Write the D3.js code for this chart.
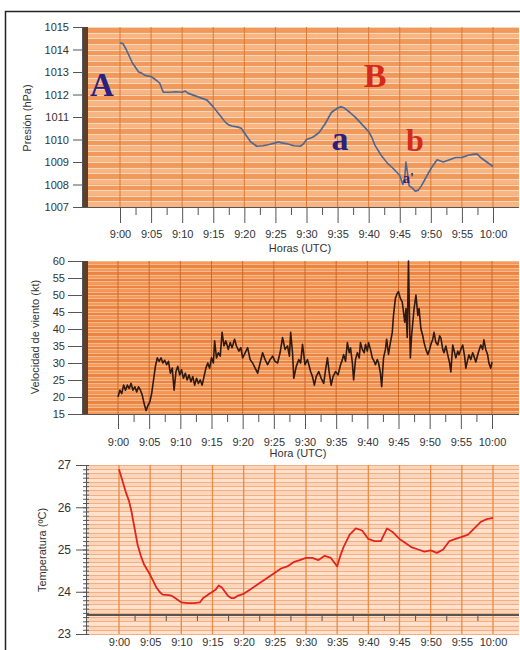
<!DOCTYPE html>
<html>
<head>
<meta charset="utf-8">
<script src="https://cdnjs.cloudflare.com/ajax/libs/d3/7.8.5/d3.min.js"></script>
<style>
	body { margin: 0; background: #fff; }
	svg text { font-family: "Liberation Sans", Arial, sans-serif; fill: #333; }
	.axis path, .axis line { stroke: #555; }
	.axis text { font-size: 11px; fill: #333; }
	.mark { font-family: "Liberation Serif", "Times New Roman", serif !important; font-weight: bold; }
</style>
</head>
<body>
<svg id="chart"></svg>
<script>
// minutes after 9:00 UTC
var timeTicks = ["9:00","9:05","9:10","9:15","9:20","9:25","9:30","9:35","9:40","9:45","9:50","9:55","10:00"];

// pressure (hPa)
var pressure = [
	[0,1014.3],[0.5,1014.25],[1,1014.0],[1.5,1013.7],[2,1013.4],[2.5,1013.2],[3,1013.0],[3.5,1012.95],
	[4,1012.85],[5,1012.8],[5.5,1012.7],[6,1012.6],[6.4,1012.5],[6.8,1012.2],[7,1012.1],[8,1012.1],
	[9,1012.12],[10,1012.1],[10.5,1012.15],[11,1012.05],[12,1011.95],[13,1011.85],[14,1011.75],
	[15,1011.45],[16,1011.1],[17,1010.75],[17.5,1010.65],[18,1010.6],[19,1010.55],[19.5,1010.5],
	[20,1010.3],[20.5,1010.1],[21,1009.9],[21.5,1009.8],[22,1009.7],[23,1009.72],[24,1009.78],
	[25,1009.85],[25.5,1009.9],[26,1009.85],[27,1009.8],[28,1009.72],[29,1009.7],[29.5,1009.8],
	[30,1010.0],[31,1010.1],[32,1010.3],[33,1010.7],[34,1011.2],[35,1011.4],[35.5,1011.45],
	[36,1011.42],[37,1011.2],[38,1010.95],[39,1010.65],[40,1010.35],[40.5,1010.1],[41,1009.75],
	[42,1009.3],[43,1008.95],[44,1008.7],[45,1008.4],[45.5,1008.0],[45.8,1008.3],[46,1009.0],
	[46.2,1008.6],[46.5,1007.95],[47,1007.85],[47.5,1007.7],[48,1007.75],[48.5,1007.95],[49,1008.2],
	[50,1008.7],[51,1009.1],[52,1009.0],[53,1009.1],[54,1009.2],[55,1009.2],[56,1009.3],
	[57,1009.35],[57.5,1009.35],[58,1009.2],[59,1009.0],[60,1008.8]
];

// wind speed (kt)
var wind = [
	[0,20],[0.3,22],[0.6,21],[0.9,23.5],[1.2,22],[1.5,23.5],[1.8,22.5],[2.1,24],[2.4,22],[2.7,23],
	[3,21.5],[3.3,23],[3.6,22],[3.9,20.5],[4.2,18],[4.5,16],[4.8,17.5],[5.1,18.5],[5.4,21],[5.7,25],
	[6,29],[6.3,31.5],[6.6,30.5],[6.9,31.5],[7.2,30],[7.5,30.8],[7.8,29.5],[8.1,30.5],[8.4,27],[8.7,28.5],
	[9,22],[9.3,27.5],[9.6,29],[9.9,26.5],[10.2,28],[10.5,25.5],[10.8,27],[11.1,25],[11.4,26.5],[11.7,24.5],
	[12,26],[12.3,23.5],[12.6,25.5],[12.9,24],[13.2,25],[13.5,23.5],[13.8,26],[14.1,28.5],[14.4,30],[14.7,28.5],
	[15,31.5],[15.3,30],[15.5,36.5],[15.8,31.5],[16.1,33],[16.4,32],[16.7,39],[17,35],[17.3,36.5],[17.7,34],
	[18,36],[18.3,34.5],[18.7,37],[19,35],[19.4,33.5],[19.7,34.5],[20,31.5],[20.4,33],[20.8,34.5],[21.2,31],
	[21.6,30],[22,28.5],[22.4,27],[22.8,30],[23.2,33],[23.6,31],[24,29.5],[24.4,31],[24.8,32],[25.2,30.5],
	[25.6,30],[26,33],[26.4,37.5],[26.8,34],[27.2,35],[27.5,32],[27.7,39],[28,33],[28.2,25.5],[28.6,29],
	[29,31],[29.3,30],[29.6,35.5],[30,29.5],[30.4,31],[30.9,27.5],[31.2,26],[31.5,23.5],[31.8,26],[32.2,27.5],
	[32.6,25.5],[33,24],[33.3,28],[33.6,31.5],[33.9,27],[34.2,23.5],[34.5,26],[34.9,27.5],[35.3,26.5],[35.7,29.5],
	[36,31],[36.2,32.5],[36.5,30.5],[36.8,36],[37.1,33],[37.3,34.5],[37.6,30],[37.8,25],[38.1,31],[38.4,33],
	[38.7,31.5],[38.9,36],[39.2,34],[39.5,33],[39.7,35.5],[40,33.5],[40.2,36],[40.5,34],[40.8,31.5],[41.1,30.5],
	[41.3,29.5],[41.6,31],[41.8,30],[42.1,27],[42.3,23],[42.6,31.5],[42.9,34],[43.1,37],[43.4,32.5],[43.7,36],
	[44,39],[44.2,44],[44.5,49],[44.8,50.5],[45,51],[45.3,49],[45.6,48],[45.8,45],[46,42],[46.2,46],
	[46.4,37.5],[46.6,60],[46.8,40],[46.9,31.5],[47.1,38],[47.3,42],[47.5,46],[47.8,50],[48.1,44],[48.3,46],
	[48.6,40],[48.9,38],[49.1,36],[49.4,34],[49.7,32.5],[50,34],[50.2,35.5],[50.5,37],[50.7,39],[51,36],
	[51.3,35.3],[51.6,38],[51.8,37.4],[52.1,34],[52.3,33],[52.6,35],[52.9,32.4],[53.2,30],[53.4,27.4],[53.7,35.3],
	[54,33],[54.2,31.5],[54.5,33.5],[54.7,32.4],[55,34],[55.3,35.3],[55.6,32],[55.8,28.5],[56.1,31],[56.3,32.4],
	[56.6,31],[56.9,33],[57.2,31.5],[57.4,30.3],[57.8,33],[58.2,35.3],[58.5,34],[58.7,36.8],[59,34],[59.3,32.4],
	[59.5,30],[59.8,28.5],[60,30.3]
];

// temperature (ºC)
var temperature = [
	[0,26.9],[0.5,26.65],[1,26.4],[1.6,26.15],[2,25.9],[2.5,25.5],[3,25.1],[3.5,24.85],[4,24.65],
	[4.8,24.45],[5.5,24.25],[6,24.1],[6.5,24.0],[7,23.93],[8,23.92],[8.5,23.9],[9,23.85],[9.5,23.8],
	[10,23.75],[11,23.73],[12,23.73],[13,23.75],[13.5,23.85],[14,23.9],[14.5,23.95],[15,24.0],
	[15.5,24.05],[16,24.15],[16.5,24.1],[17,24.0],[17.5,23.9],[18,23.85],[18.5,23.85],[19,23.9],
	[20,23.95],[21,24.05],[22,24.15],[22.5,24.2],[23,24.25],[24,24.35],[25,24.45],[26,24.55],
	[27,24.6],[28,24.7],[29,24.75],[30,24.8],[31,24.8],[32,24.75],[33,24.85],[34,24.8],[34.5,24.7],
	[35,24.6],[35.5,24.85],[36,25.05],[37,25.35],[38,25.5],[39,25.45],[40,25.25],[41,25.2],[42,25.2],
	[43,25.5],[44,25.4],[45,25.25],[46,25.15],[47,25.05],[48,25.0],[49,24.95],[50,24.98],[51,24.92],
	[52,25.0],[53,25.2],[54,25.25],[55,25.3],[56,25.35],[57,25.5],[58,25.65],[59,25.72],[60,25.75]
];

var pressureTicks = [1007,1008,1009,1010,1011,1012,1013,1014,1015];
var windTicks = [15,20,25,30,35,40,45,50,55,60];
var tempTicks = [23,24,25,26,27];

var width = 520, height = 650;
var svg = d3.select("#chart").attr("width", width).attr("height", height);

svg.append("rect")
	.attr("x", 5.5).attr("y", 11.5)
	.attr("width", 520).attr("height", 650)
	.attr("fill", "none").attr("stroke", "#222").attr("stroke-width", 1.5);

var majorMins = d3.range(0, 61, 5);
var minorMins = d3.range(2.5, 61, 5);

function panel(o){
	var g = svg.append("g");
	var x = d3.scaleLinear().domain([0, 60]).range([o.x0, o.x60]);
	var y = d3.scaleLinear().domain(o.yDomain).range([o.bottom, o.top]);

	// background + stripes
	g.append("rect")
		.attr("x", o.left).attr("y", o.top)
		.attr("width", o.right - o.left).attr("height", o.bottom - o.top)
		.attr("fill", o.bg);

	g.append("g").selectAll("rect")
		.data(d3.range(o.yDomain[0], o.yDomain[1], o.band))
		.enter().append("rect")
			.attr("x", o.left)
			.attr("y", function(d){ return y(d + o.band); })
			.attr("width", o.right - o.left)
			.attr("height", function(d){ return y(d) - y(d + o.band); })
			.attr("fill", function(d,i){ return i % 2 ? o.band1 : o.band2; });

	g.append("g").selectAll("line")
		.data(d3.range(o.yDomain[0], o.yDomain[1] + 1e-6, o.band))
		.enter().append("line")
			.attr("x1", o.left).attr("x2", o.right)
			.attr("y1", function(d){ return Math.round(y(d)) + .5; })
			.attr("y2", function(d){ return Math.round(y(d)) + .5; })
			.attr("stroke", o.stripe)
			.attr("stroke-width", 1);

	// vertical grid
	g.append("g").selectAll("line")
		.data(majorMins)
		.enter().append("line")
			.attr("x1", function(d){ return x(d); })
			.attr("x2", function(d){ return x(d); })
			.attr("y1", o.top).attr("y2", o.bottom)
			.attr("stroke", o.vgrid)
			.attr("stroke-width", o.vgridW);

	return {g: g, x: x, y: y};
}

function xAxis(p, o){
	p.g.append("g")
		.attr("class", "axis")
		.attr("transform", "translate(0," + o.axisY + ")")
		.call(d3.axisBottom(p.x).tickValues(majorMins).tickSize(o.majorSize).tickPadding(o.pad)
			.tickFormat(function(d,i){ return timeTicks[i]; }))
		.call(function(a){ a.select(".domain").remove(); });

	p.g.append("g")
		.attr("class", "axis")
		.attr("transform", "translate(0," + o.axisY + ")")
		.call(d3.axisBottom(p.x).tickValues(minorMins).tickSize(o.minorSize).tickFormat(""))
		.call(function(a){ a.select(".domain").remove(); });
}

function line(p, data, color, w){
	p.g.append("path")
		.datum(data)
		.attr("fill", "none")
		.attr("stroke", color)
		.attr("stroke-width", w)
		.attr("stroke-linejoin", "round")
		.attr("d", d3.line().x(function(d){ return p.x(d[0]); }).y(function(d){ return p.y(d[1]); }));
}

// ---- Pressure
var top1 = panel({
	left: 82, right: 519, top: 27, bottom: 207, x0: 120, x60: 493,
	yDomain: [1007, 1015], band: 0.25,
	bg: "#f3a66b", band1: "#f0995a", band2: "#f6b583", stripe: "#fbd6b8",
	vgrid: "#d97a35", vgridW: 1
});
top1.g.append("rect").attr("x", 82).attr("y", 27).attr("width", 6).attr("height", 180).attr("fill", "#5e3f27");
top1.g.append("g")
	.attr("class", "axis")
	.attr("transform", "translate(82,0)")
	.call(d3.axisLeft(top1.y).tickValues(pressureTicks).tickSize(9).tickPadding(4).tickFormat(d3.format("d")));
top1.g.append("line").attr("x1", 73).attr("x2", 519).attr("y1", 207.5).attr("y2", 207.5).attr("stroke", "#555");
xAxis(top1, {axisY: 208, majorSize: 15, minorSize: 7, pad: 7});
line(top1, pressure, "#4b6894", 1.6);

svg.append("text").attr("x", 300).attr("y", 252).attr("text-anchor", "middle").style("font-size", "11px").text("Horas (UTC)");
svg.append("text").attr("transform", "translate(31,118) rotate(-90)").attr("text-anchor", "middle").style("font-size", "11px").text("Presión (hPa)");

svg.append("text").attr("class", "mark").attr("x", 102).attr("y", 96).attr("text-anchor", "middle")
	.style("font-size", "33px").style("fill", "#2b2080").text("A");
svg.append("text").attr("class", "mark").attr("x", 375).attr("y", 87).attr("text-anchor", "middle")
	.style("font-size", "34px").style("fill", "#d42a1c").text("B");
svg.append("text").attr("class", "mark").attr("x", 340).attr("y", 150).attr("text-anchor", "middle")
	.style("font-size", "34px").style("fill", "#2b2080").text("a");
svg.append("text").attr("class", "mark").attr("x", 415).attr("y", 151).attr("text-anchor", "middle")
	.style("font-size", "32px").style("fill", "#d42a1c").text("b");
svg.append("text").attr("class", "mark").attr("x", 403).attr("y", 183)
	.style("font-size", "14px").style("fill", "#2b2080").text("a'");

// ---- Wind
var mid = panel({
	left: 82, right: 519, top: 261, bottom: 414, x0: 118, x60: 492,
	yDomain: [15, 60], band: 1,
	bg: "#ee8a46", band1: "#ec8440", band2: "#f29a5c", stripe: "#f7b88c",
	vgrid: "#c96a28", vgridW: 1
});
mid.g.append("rect").attr("x", 82).attr("y", 261).attr("width", 6).attr("height", 153).attr("fill", "#5e3f27");
mid.g.append("g")
	.attr("class", "axis")
	.attr("transform", "translate(82,0)")
	.call(d3.axisLeft(mid.y).tickValues(windTicks).tickSize(14).tickPadding(3));
mid.g.append("line").attr("x1", 68).attr("x2", 519).attr("y1", 414.5).attr("y2", 414.5).attr("stroke", "#555");
xAxis(mid, {axisY: 415, majorSize: 14, minorSize: 7, pad: 9});
line(mid, wind, "#2e1a0e", 1.6);

svg.append("text").attr("x", 298).attr("y", 457).attr("text-anchor", "middle").style("font-size", "11px").text("Hora (UTC)");
svg.append("text").attr("transform", "translate(39,337) rotate(-90)").attr("text-anchor", "middle").style("font-size", "11px").text("Velocidad de viento (kt)");

// ---- Temperature
var bot = panel({
	left: 86, right: 519, top: 465, bottom: 634, x0: 119, x60: 493,
	yDomain: [23, 27], band: 0.1,
	bg: "#fcdcc4", band1: "#fbd5ba", band2: "#fde3cf", stripe: "#f3ae82",
	vgrid: "#e98b45", vgridW: 1.3
});
bot.g.append("g")
	.attr("class", "axis")
	.attr("transform", "translate(86,0)")
	.call(d3.axisLeft(bot.y).tickValues(tempTicks).tickSize(10).tickPadding(5).tickFormat(d3.format("d")))
	.call(function(a){ a.selectAll("text").style("font-size", "12px"); });
bot.g.append("g")
	.attr("class", "axis")
	.attr("transform", "translate(89,0)")
	.call(d3.axisLeft(bot.y).tickValues(d3.range(23, 27.01, 0.1)).tickSize(6).tickFormat(""))
	.call(function(a){ a.select(".domain").remove(); });
bot.g.append("line").attr("x1", 86).attr("x2", 519).attr("y1", 615).attr("y2", 615).attr("stroke", "#555").attr("stroke-width", 2);
bot.g.append("g")
	.attr("class", "axis")
	.attr("transform", "translate(0,615)")
	.call(d3.axisBottom(bot.x).tickValues(minorMins).tickSize(6).tickFormat(""))
	.call(function(a){ a.select(".domain").remove(); });
bot.g.append("g")
	.attr("class", "axis")
	.attr("transform", "translate(0,638)")
	.call(d3.axisBottom(bot.x).tickValues(majorMins).tickSize(0).tickPadding(0)
		.tickFormat(function(d,i){ return timeTicks[i]; }))
	.call(function(a){ a.select(".domain").remove(); });
line(bot, temperature, "#e3241b", 1.8);

svg.append("text").attr("transform", "translate(46,550) rotate(-90)").attr("text-anchor", "middle").style("font-size", "11px").text("Temperatura (ºC)");
</script>
</body>
</html>
